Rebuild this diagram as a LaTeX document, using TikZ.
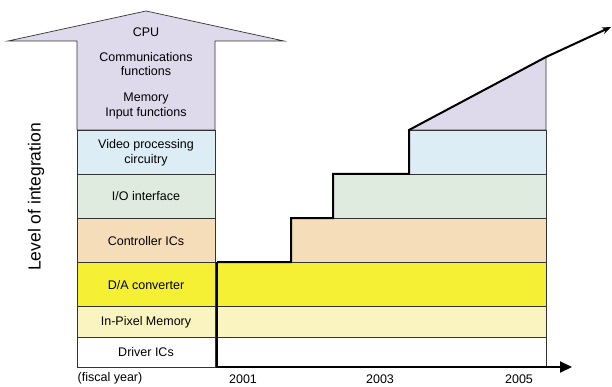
\documentclass[tikz,border=0pt]{standalone}
\usepackage{fontspec}
\setmainfont{Liberation Sans}
\usetikzlibrary{arrows.meta}

\definecolor{cpupurple}{RGB}{222,218,236}
\definecolor{videoblue}{RGB}{221,237,245}
\definecolor{iogreen}{RGB}{222,235,222}
\definecolor{ctrlorange}{RGB}{246,221,186}
\definecolor{dayellow}{RGB}{245,240,52}
\definecolor{pixelyellow}{RGB}{250,245,192}

\begin{document}
\begin{tikzpicture}[x=1pt, y=-1pt,
  band/.style={draw=black!80, line width=0.7pt},
  boxtext/.style={font=\fontsize{12.5}{14.5}\selectfont, align=center},
  stair/.style={line width=2pt, line join=miter},
  timeaxis/.style={line width=2pt, line join=miter}]
\useasboundingbox (0,0) rectangle (612,387);

% Left column, arrow-shaped top block
\filldraw[band, fill=cpupurple] (8,41) -- (146,11) -- (284,41) -- (215,41) -- (215,130) -- (77,130) -- (77,41) -- cycle;

% Left column rows
\foreach \top/\bot/\col in {130/174/videoblue, 174/218/iogreen, 218/262/ctrlorange, 262/306/dayellow, 306/337/pixelyellow, 337/367/white}
  \filldraw[band, fill=\col] (77,\top) rectangle (215,\bot);

% Bands on the time side
\filldraw[band, fill=cpupurple] (409,130) -- (546,57) -- (546,130) -- cycle;
\foreach \left/\top/\bot/\col in {409/130/174/videoblue, 333/174/218/iogreen, 291/218/262/ctrlorange, 217/262/306/dayellow, 217/306/337/pixelyellow, 217/337/367/white}
  \filldraw[band, fill=\col] (\left,\top) rectangle (546,\bot);

% Staircase
\coordinate (s0) at (217,262);
\coordinate (s1) at (291,262);
\coordinate (s2) at (291,218);
\coordinate (s3) at (333,218);
\coordinate (s4) at (333,174);
\coordinate (s5) at (409,174);
\coordinate (s6) at (409,130);
\coordinate (s7) at (546,57);
\coordinate (tip) at (611,27);
\draw[stair, -{Stealth[length=9pt,width=7pt]}] (s0) -- (s1) -- (s2) -- (s3) -- (s4) -- (s5) -- (s6) -- (s7) -- (tip);

% Time axis
\coordinate (origin) at (217,367);
\coordinate (xend) at (572,367);
\draw[timeaxis, -{Triangle[length=12pt,width=11pt]}] (s0) -- (origin) -- (xend);

% Labels of the left column
\node[boxtext] (cpu) at (146,32) {CPU};
\node[boxtext] (comm) at (146,64) {Communications\\functions};
\node[boxtext] (mem) at (146,106) {Memory\\Input functions};
\node[boxtext] (video) at (146,153) {Video processing\\circuitry};
\node[boxtext] (io) at (146,196) {I/O interface};
\node[boxtext] (ctrl) at (146,241) {Controller ICs};
\node[boxtext] (dac) at (146,285) {D/A converter};
\node[boxtext] (pixel) at (146,322) {In-Pixel Memory};
\node[boxtext] (driver) at (146,352) {Driver ICs};

% Axis labels
\node[font=\fontsize{17.5}{20}\selectfont, rotate=90] (level) at (36,197) {Level of integration};
\node[boxtext] (fiscal) at (110,378) {(fiscal year)};
\foreach \x/\yr in {243/2001, 380/2003, 519/2005}
  \node[boxtext] (y\yr) at (\x,379) {\yr};
\end{tikzpicture}
\end{document}
